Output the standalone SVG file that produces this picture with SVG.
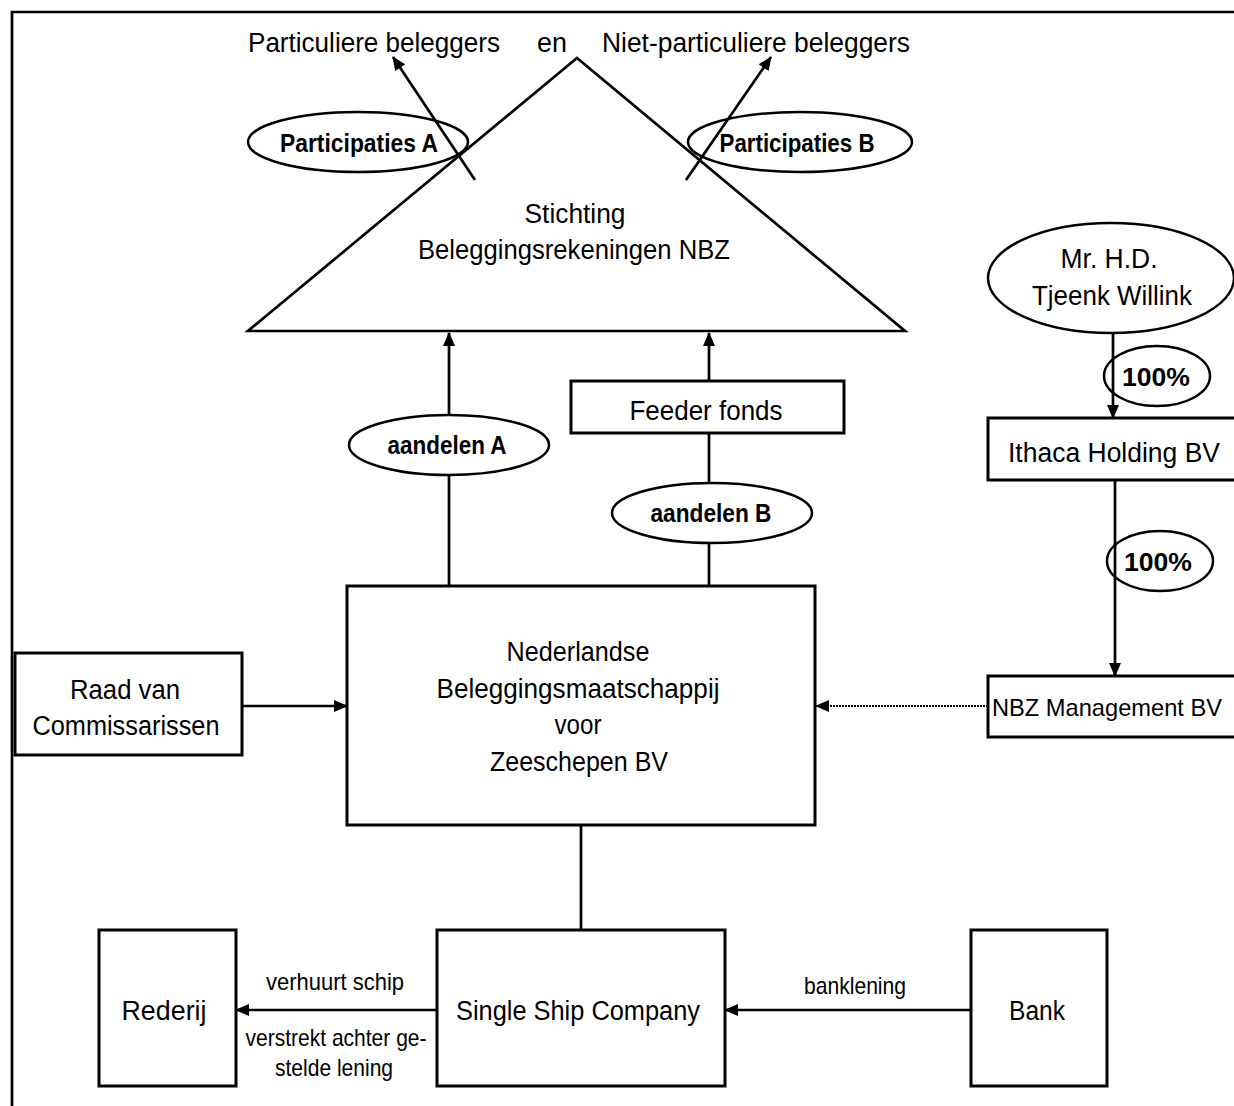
<svg xmlns="http://www.w3.org/2000/svg" width="1234" height="1106" viewBox="0 0 1234 1106">
<defs>
<marker id="ah" markerWidth="14" markerHeight="12" refX="13" refY="6" orient="auto" markerUnits="userSpaceOnUse"><path d="M0,0 L14,6 L0,12 Z" fill="#000"/></marker>
<style>
.t{font-family:"Liberation Sans",Arial,sans-serif;font-size:27px;fill:#000;text-anchor:middle}
.s{font-size:24px}
.b{font-weight:bold;font-size:25px}
.box{fill:#fff;stroke:#000;stroke-width:3}
.el{fill:#fff;stroke:#000;stroke-width:2.5}
.ln{stroke:#000;stroke-width:2.7;fill:none}
</style>
</defs>
<rect width="1234" height="1106" fill="#fff"/>
<path d="M12,1106 V12 H1234" class="ln" stroke-width="3"/>

<g id="connectors">
<line x1="475" y1="180" x2="393" y2="57" class="ln" marker-end="url(#ah)"/>
<line x1="686" y1="180" x2="771" y2="57" class="ln" marker-end="url(#ah)"/>
<line x1="449" y1="588" x2="449" y2="333" class="ln" marker-end="url(#ah)"/>
<line x1="709" y1="586" x2="709" y2="433" class="ln"/>
<line x1="709" y1="381" x2="709" y2="333" class="ln" marker-end="url(#ah)"/>
<line x1="1113" y1="333" x2="1113" y2="418" class="ln" marker-end="url(#ah)"/>
<line x1="1115" y1="480" x2="1115" y2="676" class="ln" marker-end="url(#ah)"/>
<line x1="242" y1="706" x2="347" y2="706" class="ln" marker-end="url(#ah)"/>
<line x1="988" y1="706" x2="816" y2="706" stroke="#000" stroke-width="1.8" stroke-dasharray="2,1" marker-end="url(#ah)"/>
<line x1="581" y1="825" x2="581" y2="930" class="ln"/>
<line x1="437" y1="1010" x2="236" y2="1010" class="ln" marker-end="url(#ah)"/>
<line x1="971" y1="1010" x2="725" y2="1010" class="ln" marker-end="url(#ah)"/>
</g>

<g id="stichting">
<path d="M577,58 L248,331 L905,331 Z" class="ln" fill="none"/>
<text class="t" x="575" y="223" textLength="101" lengthAdjust="spacingAndGlyphs">Stichting</text>
<text class="t" x="574" y="259" textLength="312" lengthAdjust="spacingAndGlyphs">Beleggingsrekeningen NBZ</text>
</g>

<g id="beleggers">
<text class="t" x="374" y="52" textLength="252" lengthAdjust="spacingAndGlyphs">Particuliere beleggers</text>
<text class="t" x="552" y="52" textLength="30" lengthAdjust="spacingAndGlyphs">en</text>
<text class="t" x="756" y="52" textLength="308" lengthAdjust="spacingAndGlyphs">Niet-particuliere beleggers</text>
</g>

<g id="partA">
<ellipse cx="358" cy="142" rx="110" ry="30" class="el" style="fill:none"/>
<text class="t b" x="359" y="152" textLength="158" lengthAdjust="spacingAndGlyphs">Participaties A</text>
</g>
<g id="partB">
<ellipse cx="800" cy="142" rx="112" ry="30" class="el" style="fill:none"/>
<text class="t b" x="797" y="152" textLength="155" lengthAdjust="spacingAndGlyphs">Participaties B</text>
</g>

<g id="aandelenA">
<ellipse cx="449" cy="445" rx="100" ry="30" class="el"/>
<text class="t b" x="447" y="454" textLength="119" lengthAdjust="spacingAndGlyphs">aandelen A</text>
</g>
<g id="feeder">
<rect x="571" y="381" width="273" height="52" class="box"/>
<text class="t" x="706" y="420" textLength="153" lengthAdjust="spacingAndGlyphs">Feeder fonds</text>
</g>
<g id="aandelenB">
<ellipse cx="712" cy="513" rx="100" ry="30" class="el"/>
<text class="t b" x="711" y="522" textLength="121" lengthAdjust="spacingAndGlyphs">aandelen B</text>
</g>

<g id="willink">
<ellipse cx="1111" cy="278" rx="123" ry="55" class="el"/>
<text class="t" x="1109" y="268" textLength="97" lengthAdjust="spacingAndGlyphs">Mr. H.D.</text>
<text class="t" x="1112" y="305" textLength="160" lengthAdjust="spacingAndGlyphs">Tjeenk Willink</text>
</g>
<g id="pct1">
<ellipse cx="1157" cy="376" rx="53" ry="30" class="el" style="fill:none"/>
<text class="t b" x="1156" y="386" textLength="68" lengthAdjust="spacingAndGlyphs">100%</text>
</g>
<g id="ithaca">
<rect x="988" y="418" width="250" height="62" class="box"/>
<text class="t" x="1114" y="462" textLength="212" lengthAdjust="spacingAndGlyphs">Ithaca Holding BV</text>
</g>
<g id="pct2">
<ellipse cx="1160" cy="561" rx="53" ry="30" class="el" style="fill:none"/>
<text class="t b" x="1158" y="571" textLength="68" lengthAdjust="spacingAndGlyphs">100%</text>
</g>
<g id="nbzman">
<rect x="988" y="676" width="250" height="61" class="box"/>
<text class="t" x="1107" y="716" style="font-size:24px" textLength="230" lengthAdjust="spacingAndGlyphs">NBZ Management BV</text>
</g>

<g id="nbz">
<rect x="347" y="586" width="468" height="239" class="box"/>
<text class="t" x="578" y="661" textLength="143" lengthAdjust="spacingAndGlyphs">Nederlandse</text>
<text class="t" x="578" y="698" textLength="283" lengthAdjust="spacingAndGlyphs">Beleggingsmaatschappij</text>
<text class="t" x="578" y="734" textLength="47" lengthAdjust="spacingAndGlyphs">voor</text>
<text class="t" x="579" y="771" textLength="178" lengthAdjust="spacingAndGlyphs">Zeeschepen BV</text>
</g>
<g id="raad">
<rect x="15" y="653" width="227" height="102" class="box"/>
<text class="t" x="125" y="699" textLength="110" lengthAdjust="spacingAndGlyphs">Raad van</text>
<text class="t" x="126" y="735" textLength="187" lengthAdjust="spacingAndGlyphs">Commissarissen</text>
</g>

<g id="ssc">
<rect x="437" y="930" width="288" height="156" class="box"/>
<text class="t" x="578" y="1020" textLength="244" lengthAdjust="spacingAndGlyphs">Single Ship Company</text>
</g>
<g id="rederij">
<rect x="99" y="930" width="137" height="156" class="box"/>
<text class="t" x="164" y="1020" textLength="85" lengthAdjust="spacingAndGlyphs">Rederij</text>
</g>
<g id="bank">
<rect x="971" y="930" width="136" height="156" class="box"/>
<text class="t" x="1037" y="1020" textLength="56" lengthAdjust="spacingAndGlyphs">Bank</text>
</g>

<g id="labels">
<text class="t s" x="335" y="990" textLength="138" lengthAdjust="spacingAndGlyphs">verhuurt schip</text>
<text class="t s" x="336" y="1046" textLength="181" lengthAdjust="spacingAndGlyphs">verstrekt achter ge-</text>
<text class="t s" x="334" y="1076" textLength="118" lengthAdjust="spacingAndGlyphs">stelde lening</text>
<text class="t s" x="855" y="994" textLength="102" lengthAdjust="spacingAndGlyphs">banklening</text>
</g>
</svg>
